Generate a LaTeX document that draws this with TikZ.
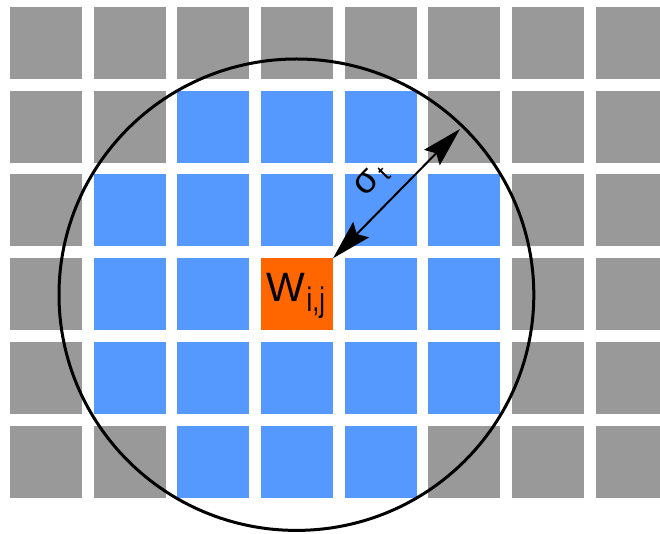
\documentclass[tikz,border=0pt]{standalone}
\usepackage{fontspec}
\setmainfont{Liberation Sans}
\usetikzlibrary{arrows.meta,shapes.geometric}
\definecolor{cgray}{HTML}{999999}
\definecolor{cblue}{HTML}{5599FF}
\definecolor{corange}{HTML}{FF6600}
\begin{document}
\begin{tikzpicture}[x=1pt,y=-1pt,
  cell/.style={rectangle, minimum size=72pt, inner sep=0pt, outer sep=0pt, draw=none, anchor=north west},
  ring/.style={ellipse, draw=black, line width=3pt, minimum width=474.8pt, minimum height=471.4pt, inner sep=0pt},
  dimarrow/.style={line width=2pt, {Stealth[length=40pt,width=22pt,inset=6pt]}-{Stealth[length=40pt,width=22pt,inset=6pt]}}
]
\useasboundingbox (0,0) rectangle (660,534);
\foreach \r in {0,...,5}{
  \foreach \c in {0,...,7}{
    \pgfmathtruncatemacro\isblue{(((\r==1)||(\r==5))&&(\c>=2)&&(\c<=4)) || ((\r>=2)&&(\r<=4)&&(\c>=1)&&(\c<=5)) ? 1 : 0}
    \ifnum\isblue=1 \def\cc{cblue}\else\def\cc{cgray}\fi
    \ifnum\r=3 \ifnum\c=3 \def\cc{corange}\fi\fi
    \node[cell, fill=\cc] (c-\r-\c) at ({10+\c*83.67},{6.7+\r*83.85}) {};
  }
}
\node[inner sep=0pt, anchor=base west] (wlabel) at (266.2,301)
  {\fontsize{41}{41}\selectfont W\kern1.5pt\raisebox{-10.3pt}{\scalebox{0.75}[1]{\fontsize{34}{34}\selectfont i,j}}};
\node[ring] (circ) at (296.4,294.7) {};
\coordinate (a1) at (c-3-3.north east);
\coordinate (a2) at (460,129);
\draw[dimarrow] (a1) -- (a2);
\node[inner sep=0pt, rotate=45.8] (sig) at (372,180)
  {\fontsize{37}{37}\selectfont σ\kern4pt\raisebox{-5pt}{\fontsize{24}{24}\selectfont t}};
\end{tikzpicture}
\end{document}
